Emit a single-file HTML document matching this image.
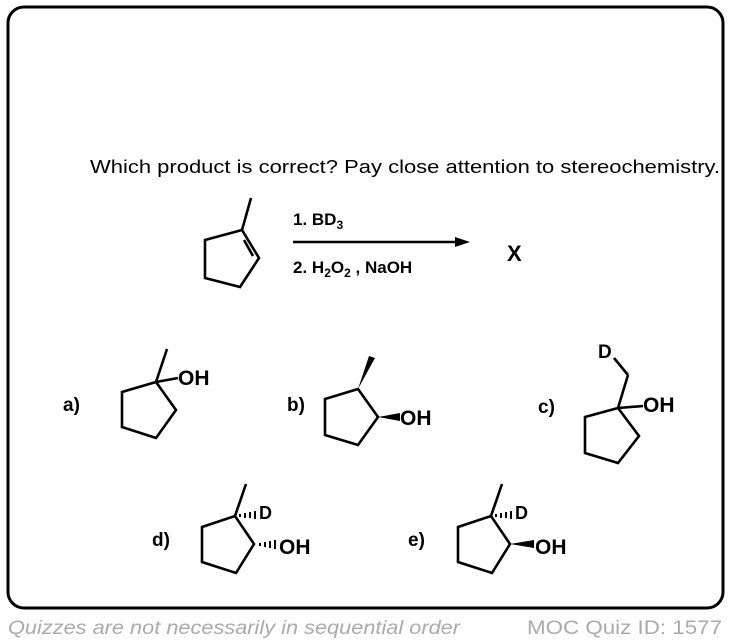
<!DOCTYPE html>
<html><head><style>
html,body{margin:0;padding:0;background:#fff;width:732px;height:644px;overflow:hidden}
svg{display:block}
text{font-family:"Liberation Sans",Arial,sans-serif}
.b{font-weight:bold;fill:#000}
</style></head><body>
<svg width="732" height="644" viewBox="0 0 732 644" xmlns="http://www.w3.org/2000/svg">
<rect x="8" y="7" width="715" height="601" rx="16" ry="16" fill="none" stroke="#000" stroke-width="3"/>
<text x="90" y="173" style="font-size:18px" textLength="630" lengthAdjust="spacingAndGlyphs">Which product is correct? Pay close attention to stereochemistry.</text>
<g stroke="#000" stroke-width="2.6" fill="none" stroke-linejoin="miter" stroke-linecap="butt">
<polygon points="205,240 242,230 259,258 240,287 205,278"/>
<line x1="242" y1="230" x2="251" y2="198"/>
<line x1="244" y1="240" x2="253" y2="256"/>
<line x1="293" y1="242" x2="455" y2="242"/>
<polygon points="122,392 156,382 176,410 156,438 122,427"/>
<line x1="156" y1="382" x2="167" y2="349"/>
<line x1="156" y1="382" x2="178" y2="378"/>
<polygon points="325,399 358,389 378,417 358,445 325,435"/>
<polygon points="585,417 618,408 639,436 618,463 585,453"/>
<line x1="618" y1="408" x2="628" y2="375"/>
<line x1="628" y1="375" x2="614" y2="358"/>
<line x1="618" y1="408" x2="643" y2="406"/>
<polygon points="202,527 235,516 254,544 236,573 202,562"/>
<line x1="235" y1="516" x2="246" y2="484"/>
<polygon points="458,527 491,516 510,544 492,573 458,562"/>
<line x1="491" y1="516" x2="502" y2="484"/>
</g>
<polygon points="455,237 470,242 455,247" fill="#000"/>
<polygon points="358,389 369,356 375,358" fill="#000"/>
<polygon points="378,417 400,413 400,421" fill="#000"/>
<polygon points="510,544 534,540 534,548" fill="#000"/>
<g stroke="#000" stroke-width="2">
<line x1="240" y1="514" x2="240" y2="517"/><line x1="245" y1="513" x2="245" y2="518"/><line x1="250" y1="512" x2="250" y2="518"/><line x1="255" y1="511" x2="255" y2="519"/>
<line x1="260" y1="543" x2="260" y2="546"/><line x1="265" y1="542" x2="265" y2="547"/><line x1="270" y1="541" x2="270" y2="548"/><line x1="275" y1="540" x2="275" y2="549"/>
<line x1="496" y1="514" x2="496" y2="517"/><line x1="501" y1="513" x2="501" y2="518"/><line x1="506" y1="512" x2="506" y2="518"/><line x1="511" y1="511" x2="511" y2="519"/>
</g>
<text class="b" x="293" y="225" style="font-size:17px">1. BD<tspan style="font-size:12px" dy="4">3</tspan></text>
<text class="b" x="293" y="273" style="font-size:17px">2. H<tspan style="font-size:12px" dy="4">2</tspan><tspan dy="-4">O</tspan><tspan style="font-size:12px" dy="4">2</tspan><tspan dy="-4"> , NaOH</tspan></text>
<text class="b" x="507" y="261" style="font-size:22px">X</text>
<text class="b" x="63" y="411" style="font-size:19px">a)</text>
<text class="b" x="178" y="385" style="font-size:21px">OH</text>
<text class="b" x="287" y="411" style="font-size:19px">b)</text>
<text class="b" x="400" y="425" style="font-size:21px">OH</text>
<text class="b" x="538" y="413" style="font-size:19px">c)</text>
<text class="b" x="598" y="358" style="font-size:19px">D</text>
<text class="b" x="643" y="412" style="font-size:21px">OH</text>
<text class="b" x="152" y="546" style="font-size:19px">d)</text>
<text class="b" x="259" y="519" style="font-size:18px">D</text>
<text class="b" x="279" y="554" style="font-size:21px">OH</text>
<text class="b" x="408" y="546" style="font-size:19px">e)</text>
<text class="b" x="515" y="519" style="font-size:18px">D</text>
<text class="b" x="535" y="554" style="font-size:21px">OH</text>
<text x="8" y="634" style="font-size:19px;font-style:italic" fill="#aaa" textLength="452" lengthAdjust="spacingAndGlyphs">Quizzes are not necessarily in sequential order</text>
<text x="527" y="634" style="font-size:19px" fill="#aaa" textLength="195" lengthAdjust="spacingAndGlyphs">MOC Quiz ID: 1577</text>
</svg>
</body></html>
